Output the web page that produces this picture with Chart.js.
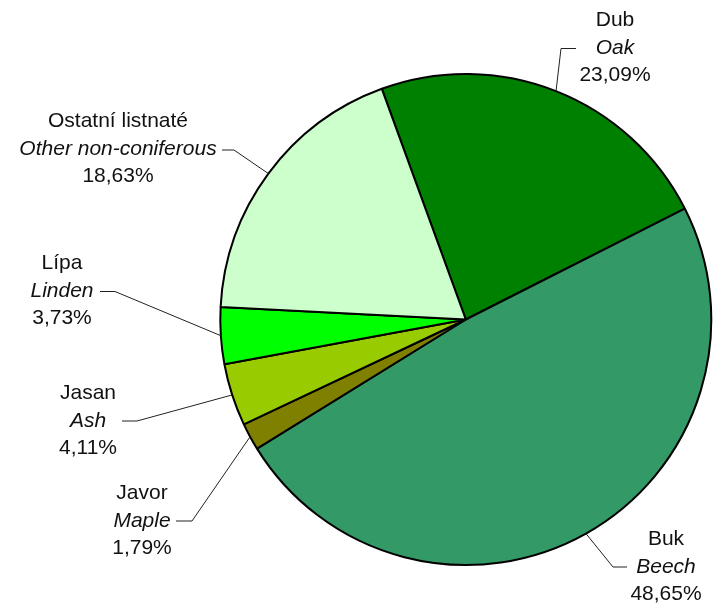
<!DOCTYPE html>
<html>
<head>
<meta charset="utf-8">
<script src="https://cdn.jsdelivr.net/npm/chart.js@4.4.1/dist/chart.umd.min.js"></script>
<style>
html,body{margin:0;padding:0;background:#fff;}
#wrap{width:715px;height:609px;position:relative;}
</style>
</head>
<body>
<div id="wrap"><canvas id="c" width="715" height="609"></canvas></div>
<script>
// ---- data ----
const namesCz = ["Dub", "Buk", "Javor", "Jasan", "Lípa", "Ostatní listnaté"];
const namesEn = ["Oak", "Beech", "Maple", "Ash", "Linden", "Other non-coniferous"];
const shares = [23.09, 48.65, 1.79, 4.11, 3.73, 18.63];
const colors = ["#008000", "#339966", "#808000", "#99CC00", "#00FF00", "#CCFFCC"];

// ---- label layout (text centre x, middle-line y, elbow x, end x) ----
const labelLayout = [
  {tx: 615, ty: 48, ex: 561, ey: 48.5, hx: 576},
  {tx: 666, ty: 567, ex: 613, ey: 567, hx: 627},
  {tx: 142, ty: 521, ex: 192, ey: 521, hx: 176},
  {tx: 88, ty: 421, ex: 137, ey: 421, hx: 122},
  {tx: 62, ty: 291, ex: 115, ey: 291.5, hx: 100},
  {tx: 118, ty: 149, ex: 234, ey: 150, hx: 222}
];

const fmt = v => v.toFixed(2).replace('.', ',') + '%';

const labelPlugin = {
  id: 'sideLabels',
  afterDatasetsDraw(chart) {
    const ctx = chart.ctx;
    const meta = chart.getDatasetMeta(0);
    ctx.save();
    meta.data.forEach((arc, i) => {
      const p = arc.getProps(['x', 'y', 'startAngle', 'endAngle', 'outerRadius'], true);
      const mid = (p.startAngle + p.endAngle) / 2;
      const ax = p.x + Math.cos(mid) * p.outerRadius;
      const ay = p.y + Math.sin(mid) * p.outerRadius;
      const L = labelLayout[i];
      ctx.strokeStyle = '#222';
      ctx.lineWidth = 1;
      ctx.beginPath();
      ctx.moveTo(ax, ay);
      ctx.lineTo(L.ex, L.ey);
      ctx.lineTo(L.hx, L.ey);
      ctx.stroke();
      ctx.fillStyle = '#111';
      ctx.textAlign = 'center';
      ctx.textBaseline = 'middle';
      const gap = 27.7;
      ctx.font = '21px "Liberation Sans", Arial, sans-serif';
      ctx.fillText(namesCz[i], L.tx, L.ty - gap);
      ctx.font = 'italic 21px "Liberation Sans", Arial, sans-serif';
      ctx.fillText(namesEn[i], L.tx, L.ty);
      ctx.font = '21px "Liberation Sans", Arial, sans-serif';
      ctx.fillText(fmt(shares[i]), L.tx, L.ty + gap);
    });
    ctx.restore();
  }
};

new Chart(document.getElementById('c'), {
  type: 'pie',
  data: {
    labels: namesEn,
    datasets: [{
      data: shares,
      backgroundColor: colors,
      borderColor: '#000',
      borderWidth: 2
    }]
  },
  options: {
    responsive: false,
    animation: false,
    rotation: -20,
    radius: 245.5,
    layout: {padding: {left: 216.6, right: 0, top: 30, bottom: 0}},
    plugins: {legend: {display: false}, tooltip: {enabled: false}}
  },
  plugins: [labelPlugin]
});
</script>
</body>
</html>
